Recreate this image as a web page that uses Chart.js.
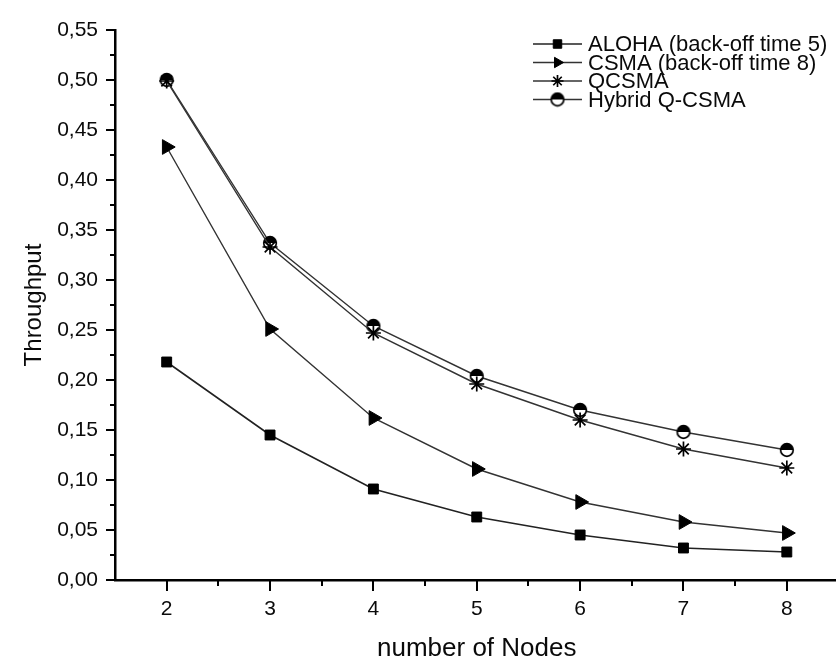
<!DOCTYPE html>
<html>
<head>
<meta charset="utf-8">
<script src="https://cdn.jsdelivr.net/npm/chart.js@4/dist/chart.umd.min.js"></script>
<style>
  html, body { margin: 0; padding: 0; background: #fff; overflow: hidden; }
  canvas { display: block; }
</style>
</head>
<body>
<canvas id="c" width="848" height="665"></canvas>
<script>
// Number of nodes on the x axis
const nodes = [2, 3, 4, 5, 6, 7, 8];

// Throughput per protocol
const aloha  = [0.218, 0.145, 0.091, 0.063, 0.045, 0.032, 0.028];
const csma   = [0.433, 0.251, 0.162, 0.111, 0.078, 0.058, 0.047];
const qcsma  = [0.499, 0.333, 0.247, 0.196, 0.160, 0.131, 0.112];
const hybrid = [0.500, 0.337, 0.254, 0.204, 0.170, 0.148, 0.130];

const seriesNames = [
  'ALOHA (back-off time 5)',
  'CSMA (back-off time 8)',
  'QCSMA',
  'Hybrid Q-CSMA'
];

// Axis ticks
const yTickValues = [0, 0.05, 0.10, 0.15, 0.20, 0.25, 0.30, 0.35, 0.40, 0.45, 0.50, 0.55];
const yTickLabels = ['0,00', '0,05', '0,10', '0,15', '0,20', '0,25', '0,30', '0,35', '0,40', '0,45', '0,50', '0,55'];
const xTickLabels = ['2', '3', '4', '5', '6', '7', '8'];

const FONT = '"Liberation Sans", Arial, Helvetica, sans-serif';
const INK = '#0a0a0a';

// Half-filled circle marker (top half solid)
function halfCircle() {
  const c = document.createElement('canvas');
  c.width = 16; c.height = 16;
  const g = c.getContext('2d');
  const r = 6.3;
  g.fillStyle = '#fff';
  g.beginPath(); g.arc(8, 8, r, 0, Math.PI * 2); g.fill();
  g.fillStyle = '#000';
  g.beginPath(); g.arc(8, 8, r, Math.PI, 0); g.closePath(); g.fill();
  g.strokeStyle = '#000'; g.lineWidth = 1.7;
  g.beginPath(); g.arc(8, 8, r, 0, Math.PI * 2); g.stroke();
  return c;
}

const toXY = ys => nodes.map((n, i) => ({ x: n, y: ys[i] }));

const datasets = [
  { label: seriesNames[0], data: toXY(aloha), pointStyle: 'rect', pointRadius: 7, pointBackgroundColor: '#000', pointBorderColor: '#000', pointBorderWidth: 1, borderColor: '#222', borderWidth: 1.6 },
  { label: seriesNames[1], data: toXY(csma), pointStyle: 'triangle', pointRotation: 90, pointRadius: 8.5, pointBackgroundColor: '#000', pointBorderColor: '#000', pointBorderWidth: 1, borderColor: '#333', borderWidth: 1.4 },
  { label: seriesNames[2], data: toXY(qcsma), pointStyle: 'star', pointRadius: 7.5, pointBackgroundColor: '#000', pointBorderColor: '#000', pointBorderWidth: 1.7, borderColor: '#333', borderWidth: 1.4 },
  { label: seriesNames[3], data: toXY(hybrid), pointStyle: halfCircle(), pointRadius: 6.5, pointBackgroundColor: '#000', pointBorderColor: '#000', pointBorderWidth: 1.7, borderColor: '#333', borderWidth: 1.4 }
].map(d => Object.assign({ fill: false, tension: 0, pointHoverRadius: d.pointRadius }, d));

// Axis ticks (major and minor), drawn outward from the axis lines
const tickMarks = {
  id: 'tickMarks',
  afterDraw(chart) {
    const { ctx, scales: { x, y }, chartArea: a } = chart;
    ctx.save();
    ctx.strokeStyle = '#000';
    ctx.lineWidth = 2;
    ctx.beginPath();
    for (let v = 0; v <= 0.55 + 1e-9; v += 0.025) {
      const py = Math.round(y.getPixelForValue(v));
      const major = Math.abs(v / 0.05 - Math.round(v / 0.05)) < 1e-6;
      ctx.moveTo(a.left, py);
      ctx.lineTo(a.left - (major ? 9 : 5), py);
    }
    for (let v = 2; v <= 8.5 + 1e-9; v += 0.5) {
      const px = Math.round(x.getPixelForValue(v));
      const major = Number.isInteger(v);
      ctx.moveTo(px, a.bottom);
      ctx.lineTo(px, a.bottom + (major ? 11 : 6));
    }
    ctx.stroke();
    ctx.restore();
  }
};

// Legend: short line with the series marker, then the name
const lineLegend = {
  id: 'lineLegend',
  afterDraw(chart) {
    const { ctx } = chart;
    const x0 = 533, x1 = 582, tx = 588;
    const rows = [44, 62.5, 81, 99.5];
    ctx.save();
    chart.data.datasets.forEach((ds, i) => {
      const yy = rows[i];
      ctx.strokeStyle = ds.borderColor;
      ctx.lineWidth = ds.borderWidth;
      ctx.beginPath(); ctx.moveTo(x0, yy); ctx.lineTo(x1, yy); ctx.stroke();
      ctx.fillStyle = ds.pointBackgroundColor;
      ctx.strokeStyle = ds.pointBorderColor;
      ctx.lineWidth = ds.pointBorderWidth;
      Chart.helpers.drawPoint(ctx, {
        pointStyle: ds.pointStyle,
        rotation: ds.pointRotation || 0,
        radius: Math.min(ds.pointRadius, 6),
        borderWidth: ds.pointBorderWidth
      }, (x0 + x1) / 2, yy);
      ctx.fillStyle = INK;
      ctx.font = '22px ' + FONT;
      ctx.textAlign = 'left';
      ctx.textBaseline = 'middle';
      ctx.fillText(ds.label, tx, yy + 1);
    });
    ctx.restore();
  }
};

new Chart(document.getElementById('c'), {
  type: 'line',
  data: { datasets },
  options: {
    responsive: false,
    devicePixelRatio: 1,
    animation: false,
    layout: { padding: { top: 30, right: 1, left: 0, bottom: 0 } },
    plugins: { legend: { display: false }, tooltip: { enabled: false } },
    scales: {
      x: {
        type: 'linear',
        min: 1.5,
        max: 8.5,
        afterBuildTicks: s => { s.ticks = nodes.map(v => ({ value: v })); },
        afterFit: s => { s.height = 85; },
        ticks: {
          padding: 17,
          color: INK,
          font: { family: FONT, size: 21 },
          callback: (v, i) => xTickLabels[i]
        },
        grid: { display: false, drawTicks: false },
        border: { display: true, color: '#000', width: 2.5 },
        title: {
          display: true,
          text: 'number of Nodes',
          color: INK,
          font: { family: FONT, size: 26 },
          padding: { top: 0, bottom: 1 }
        }
      },
      y: {
        type: 'linear',
        min: 0,
        max: 0.55,
        afterBuildTicks: s => { s.ticks = yTickValues.map(v => ({ value: v })); },
        afterFit: s => { s.width = 115; },
        ticks: {
          padding: 17,
          color: INK,
          font: { family: FONT, size: 21 },
          callback: (v, i) => yTickLabels[i]
        },
        grid: { display: false, drawTicks: false },
        border: { display: true, color: '#000', width: 2.5 },
        title: {
          display: true,
          text: 'Throughput',
          color: INK,
          font: { family: FONT, size: 24 },
          padding: { top: 20, bottom: 0 }
        }
      }
    }
  },
  plugins: [tickMarks, lineLegend]
});
</script>
</body>
</html>
